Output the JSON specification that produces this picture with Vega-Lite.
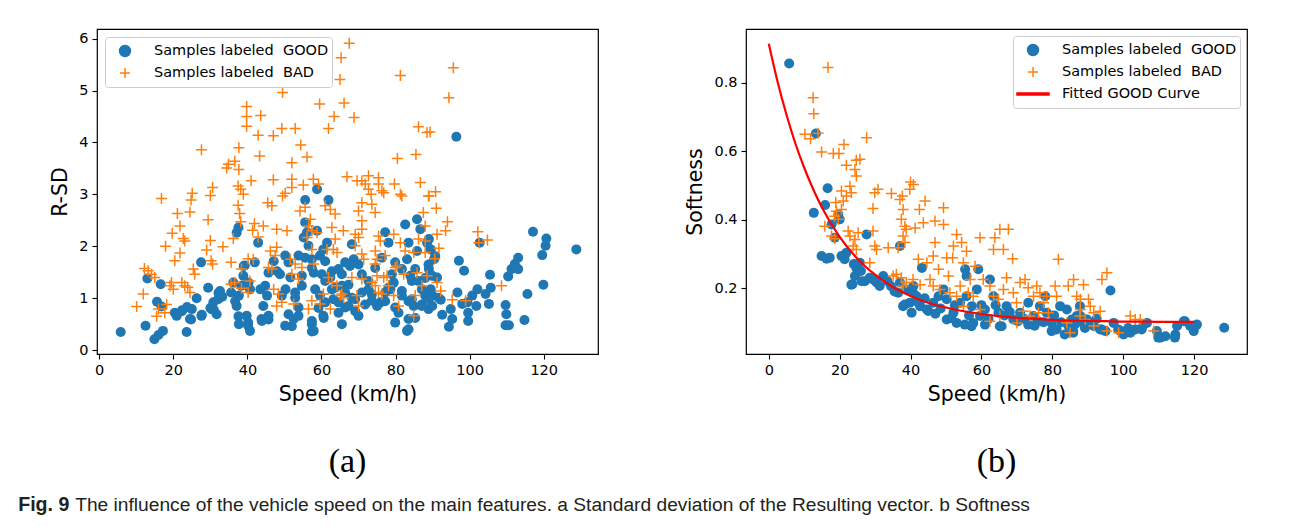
{
  "$schema": "https://vega.github.io/schema/vega-lite/v6.json",
  "background": "white",
  "padding": {"left": 18, "top": 28, "right": 5, "bottom": 5},
  "autosize": {"type": "pad"},
  "config": {
    "font": "DejaVu Sans",
    "view": {"stroke": "#000000", "strokeWidth": 1.2},
    "axis": {"grid": false, "domain": false, "tickColor": "#000000", "tickSize": 5, "tickWidth": 1.1, "labelFont": "DejaVu Sans", "labelFontSize": 14.5, "labelColor": "#000000", "labelPadding": 4, "titleFont": "DejaVu Sans", "titleFontSize": 20.5, "titleFontWeight": "normal", "titleColor": "#000000", "titlePadding": 8},
    "legend": {"fillColor": "rgba(255,255,255,0.8)", "strokeColor": "#cccccc", "cornerRadius": 3, "padding": 3, "labelFont": "DejaVu Sans", "labelFontSize": 14.5, "labelColor": "#000000", "symbolSize": 1024, "symbolStrokeWidth": 1.5, "clipHeight": 22, "rowPadding": 0, "labelOffset": 12, "labelLimit": 0}
  },
  "title": {"text": "Fig. 9", "orient": "bottom", "anchor": "start", "font": "Liberation Sans", "fontSize": 19.6, "fontWeight": "bold", "color": "#231f20", "offset": 0, "dx": -32, "dy": -19},
  "resolve": {"scale": {"color": "independent"}, "legend": {"color": "independent"}},
  "datasets": {
    "leftGood": [
      {"s":5.8,"v":0.35,"c":"G"},{"s":12.5,"v":0.47,"c":"G"},{"s":14.9,"v":0.21,"c":"G"},{"s":16.0,"v":0.29,"c":"G"},{"s":17.2,"v":0.37,"c":"G"},{"s":13.0,"v":1.38,"c":"G"},{"s":16.6,"v":1.27,"c":"G"},{"s":15.6,"v":0.93,"c":"G"},{"s":16.8,"v":0.84,"c":"G"},{"s":20.9,"v":0.66,"c":"G"},{"s":20.4,"v":0.72,"c":"G"},{"s":22.4,"v":0.77,"c":"G"},{"s":23.7,"v":0.83,"c":"G"},{"s":25.0,"v":0.79,"c":"G"},{"s":23.6,"v":0.35,"c":"G"},{"s":24.5,"v":0.6,"c":"G"},{"s":27.5,"v":1.69,"c":"G"},{"s":26.3,"v":1.0,"c":"G"},{"s":27.6,"v":0.66,"c":"G"},{"s":29.4,"v":1.2,"c":"G"},{"s":30.3,"v":0.79,"c":"G"},{"s":30.8,"v":0.92,"c":"G"},{"s":31.7,"v":0.69,"c":"G"},{"s":32.1,"v":0.98,"c":"G"},{"s":33.2,"v":1.03,"c":"G"},{"s":35.6,"v":1.11,"c":"G"},{"s":36.2,"v":1.3,"c":"G"},{"s":37.1,"v":0.85,"c":"G"},{"s":37.7,"v":1.05,"c":"G"},{"s":38.4,"v":1.24,"c":"G"},{"s":38.9,"v":1.43,"c":"G"},{"s":39.3,"v":1.63,"c":"G"},{"s":39.8,"v":0.66,"c":"G"},{"s":40.2,"v":0.53,"c":"G"},{"s":40.7,"v":1.17,"c":"G"},{"s":42.0,"v":1.69,"c":"G"},{"s":42.9,"v":2.07,"c":"G"},{"s":43.5,"v":1.17,"c":"G"},{"s":43.8,"v":0.6,"c":"G"},{"s":37.1,"v":2.26,"c":"G"},{"s":37.6,"v":2.36,"c":"G"},{"s":37.7,"v":0.5,"c":"G"},{"s":40.2,"v":0.47,"c":"G"},{"s":40.7,"v":0.37,"c":"G"},
      {"s":22.3,"v":0.75,"c":"G"},{"s":24.8,"v":0.59,"c":"G"},{"s":27.7,"v":0.68,"c":"G"},{"s":30.0,"v":0.81,"c":"G"},{"s":30.9,"v":0.78,"c":"G"},{"s":32.2,"v":1.1,"c":"G"},{"s":32.6,"v":1.14,"c":"G"},{"s":36.7,"v":0.94,"c":"G"},{"s":39.0,"v":1.62,"c":"G"},{"s":40.3,"v":1.3,"c":"G"},{"s":37.6,"v":0.65,"c":"G"},{"s":43.9,"v":0.56,"c":"G"},{"s":45.7,"v":0.59,"c":"G"},{"s":47.1,"v":1.71,"c":"G"},{"s":48.0,"v":1.52,"c":"G"},{"s":50.3,"v":1.17,"c":"G"},{"s":52.9,"v":1.01,"c":"G"},{"s":53.8,"v":0.82,"c":"G"},{"s":51.1,"v":0.69,"c":"G"},{"s":52.0,"v":0.46,"c":"G"},{"s":57.4,"v":0.56,"c":"G"},{"s":57.4,"v":0.36,"c":"G"},{"s":60.6,"v":0.62,"c":"G"},{"s":59.2,"v":0.81,"c":"G"},{"s":55.6,"v":1.78,"c":"G"},{"s":57.4,"v":1.58,"c":"G"},{"s":61.0,"v":1.71,"c":"G"},{"s":62.8,"v":1.52,"c":"G"},{"s":61.0,"v":1.33,"c":"G"},{"s":63.7,"v":1.2,"c":"G"},{"s":65.5,"v":1.46,"c":"G"},{"s":67.3,"v":1.26,"c":"G"},{"s":68.2,"v":1.01,"c":"G"},{"s":66.4,"v":0.82,"c":"G"},{"s":64.6,"v":0.72,"c":"G"},{"s":69.1,"v":0.75,"c":"G"},{"s":71.8,"v":0.88,"c":"G"},{"s":73.6,"v":1.07,"c":"G"},{"s":72.7,"v":1.33,"c":"G"},{"s":70.9,"v":1.46,"c":"G"},{"s":70.0,"v":1.65,"c":"G"},{"s":74.5,"v":1.58,"c":"G"},{"s":76.3,"v":1.78,"c":"G"},{"s":79.0,"v":1.46,"c":"G"},{"s":78.1,"v":1.2,"c":"G"},{"s":77.2,"v":0.94,"c":"G"},{"s":79.9,"v":0.82,"c":"G"},{"s":83.5,"v":0.94,"c":"G"},{"s":81.7,"v":1.14,"c":"G"},{"s":84.4,"v":1.33,"c":"G"},{"s":88.0,"v":1.39,"c":"G"},{"s":88.9,"v":1.65,"c":"G"},{"s":90.7,"v":1.81,"c":"G"},{"s":89.8,"v":1.07,"c":"G"},{"s":87.1,"v":0.88,"c":"G"},{"s":85.3,"v":0.62,"c":"G"},{"s":83.5,"v":0.4,"c":"G"},{"s":91.6,"v":1.01,"c":"G"},
      {"s":58.8,"v":3.1,"c":"G"},{"s":55.6,"v":2.89,"c":"G"},{"s":61.9,"v":2.89,"c":"G"},{"s":55.6,"v":2.46,"c":"G"},{"s":56.1,"v":2.27,"c":"G"},{"s":58.8,"v":2.3,"c":"G"},{"s":55.2,"v":2.17,"c":"G"},{"s":61.5,"v":2.07,"c":"G"},{"s":68.2,"v":2.04,"c":"G"},{"s":68.7,"v":1.75,"c":"G"},{"s":66.4,"v":1.69,"c":"G"},{"s":67.7,"v":1.62,"c":"G"},{"s":64.6,"v":1.56,"c":"G"},{"s":50.2,"v":1.82,"c":"G"},{"s":51.1,"v":1.69,"c":"G"},{"s":53.8,"v":1.82,"c":"G"},{"s":57.4,"v":1.75,"c":"G"},{"s":59.6,"v":1.82,"c":"G"},{"s":60.5,"v":1.94,"c":"G"},{"s":56.5,"v":2.01,"c":"G"},{"s":45.7,"v":1.49,"c":"G"},{"s":48.8,"v":1.46,"c":"G"},{"s":51.6,"v":1.4,"c":"G"},{"s":54.7,"v":1.43,"c":"G"},{"s":57.9,"v":1.49,"c":"G"},{"s":60.1,"v":1.46,"c":"G"},{"s":62.4,"v":1.4,"c":"G"},{"s":62.8,"v":1.17,"c":"G"},{"s":65.5,"v":1.24,"c":"G"},{"s":66.4,"v":1.11,"c":"G"},{"s":44.8,"v":1.24,"c":"G"},{"s":45.3,"v":1.05,"c":"G"},{"s":49.3,"v":1.05,"c":"G"},{"s":52.9,"v":1.11,"c":"G"},{"s":54.7,"v":1.24,"c":"G"},{"s":58.3,"v":1.17,"c":"G"},{"s":59.6,"v":1.05,"c":"G"},{"s":61.0,"v":0.92,"c":"G"},{"s":63.2,"v":0.98,"c":"G"},{"s":64.6,"v":0.92,"c":"G"},{"s":67.3,"v":0.85,"c":"G"},{"s":69.1,"v":0.98,"c":"G"},{"s":70.9,"v":1.11,"c":"G"},{"s":72.7,"v":1.17,"c":"G"},{"s":73.6,"v":0.95,"c":"G"},{"s":75.0,"v":0.85,"c":"G"},{"s":44.3,"v":0.85,"c":"G"},{"s":45.7,"v":0.66,"c":"G"},{"s":50.2,"v":0.47,"c":"G"},{"s":52.5,"v":0.6,"c":"G"},{"s":53.8,"v":0.66,"c":"G"},{"s":57.4,"v":0.5,"c":"G"},{"s":57.9,"v":0.37,"c":"G"},{"s":60.5,"v":0.66,"c":"G"},{"s":65.5,"v":0.5,"c":"G"},{"s":70.0,"v":0.66,"c":"G"},{"s":75.9,"v":0.92,"c":"G"},{"s":77.2,"v":1.11,"c":"G"},{"s":78.6,"v":1.17,"c":"G"},{"s":79.5,"v":1.3,"c":"G"},{"s":79.9,"v":1.69,"c":"G"},{"s":81.7,"v":1.56,"c":"G"},{"s":83.1,"v":1.75,"c":"G"},{"s":84.0,"v":1.43,"c":"G"},{"s":85.3,"v":1.56,"c":"G"},{"s":86.2,"v":1.33,"c":"G"},{"s":87.1,"v":1.17,"c":"G"},{"s":88.0,"v":1.05,"c":"G"},{"s":88.9,"v":0.79,"c":"G"},{"s":87.1,"v":0.85,"c":"G"},{"s":84.4,"v":0.98,"c":"G"},{"s":81.7,"v":1.05,"c":"G"},{"s":80.8,"v":0.72,"c":"G"},{"s":83.5,"v":0.6,"c":"G"},{"s":79.9,"v":0.53,"c":"G"},{"s":83.1,"v":0.37,"c":"G"},{"s":84.9,"v":0.85,"c":"G"},{"s":82.6,"v":2.42,"c":"G"},{"s":85.8,"v":2.52,"c":"G"},{"s":86.7,"v":2.33,"c":"G"},{"s":88.5,"v":2.07,"c":"G"},{"s":77.2,"v":2.27,"c":"G"},{"s":78.1,"v":2.07,"c":"G"},{"s":83.5,"v":2.07,"c":"G"},{"s":85.8,"v":1.91,"c":"G"},
      {"s":96.4,"v":4.11,"c":"G"},{"s":89.0,"v":2.14,"c":"G"},{"s":89.5,"v":1.94,"c":"G"},{"s":90.4,"v":1.75,"c":"G"},{"s":89.0,"v":1.56,"c":"G"},{"s":89.9,"v":1.43,"c":"G"},{"s":91.2,"v":1.4,"c":"G"},{"s":89.5,"v":1.17,"c":"G"},{"s":89.0,"v":0.98,"c":"G"},{"s":89.9,"v":0.85,"c":"G"},{"s":92.2,"v":0.97,"c":"G"},{"s":97.1,"v":1.72,"c":"G"},{"s":98.5,"v":1.53,"c":"G"},{"s":92.6,"v":0.68,"c":"G"},{"s":94.9,"v":0.79,"c":"G"},{"s":94.4,"v":0.45,"c":"G"},{"s":95.3,"v":0.6,"c":"G"},{"s":96.7,"v":1.11,"c":"G"},{"s":99.4,"v":0.92,"c":"G"},{"s":99.6,"v":0.72,"c":"G"},{"s":99.6,"v":0.56,"c":"G"},{"s":98.0,"v":0.89,"c":"G"},{"s":100.7,"v":1.05,"c":"G"},{"s":102.1,"v":1.17,"c":"G"},{"s":101.8,"v":0.85,"c":"G"},{"s":104.3,"v":1.08,"c":"G"},{"s":105.2,"v":0.89,"c":"G"},{"s":105.7,"v":1.2,"c":"G"},{"s":102.7,"v":2.07,"c":"G"},{"s":105.5,"v":1.45,"c":"G"},{"s":109.7,"v":0.87,"c":"G"},{"s":109.9,"v":0.69,"c":"G"},{"s":109.7,"v":0.48,"c":"G"},{"s":110.6,"v":0.48,"c":"G"},{"s":110.4,"v":1.42,"c":"G"},{"s":111.3,"v":1.56,"c":"G"},{"s":112.2,"v":1.66,"c":"G"},{"s":113.1,"v":1.78,"c":"G"},{"s":113.1,"v":1.56,"c":"G"},{"s":114.8,"v":0.58,"c":"G"},{"s":115.6,"v":1.08,"c":"G"},{"s":117.1,"v":2.28,"c":"G"},{"s":119.6,"v":1.83,"c":"G"},{"s":120.5,"v":2.01,"c":"G"},{"s":120.7,"v":2.15,"c":"G"},{"s":119.9,"v":1.26,"c":"G"},{"s":128.8,"v":1.94,"c":"G"}
    ],
    "leftBad": [
      {"s":10.1,"v":0.84,"c":"B"},{"s":11.9,"v":1.08,"c":"B"},{"s":12.2,"v":1.57,"c":"B"},{"s":13.2,"v":1.53,"c":"B"},{"s":14.1,"v":1.46,"c":"B"},{"s":15.0,"v":1.4,"c":"B"},{"s":16.8,"v":2.92,"c":"B"},{"s":15.5,"v":0.65,"c":"B"},{"s":16.0,"v":0.79,"c":"B"},{"s":17.7,"v":0.72,"c":"B"},{"s":18.2,"v":0.88,"c":"B"},{"s":19.1,"v":1.24,"c":"B"},{"s":19.5,"v":1.3,"c":"B"},{"s":20.0,"v":1.17,"c":"B"},{"s":17.9,"v":2.0,"c":"B"},{"s":19.7,"v":2.25,"c":"B"},{"s":20.4,"v":1.72,"c":"B"},{"s":21.1,"v":2.63,"c":"B"},{"s":21.8,"v":2.39,"c":"B"},{"s":22.7,"v":2.15,"c":"B"},{"s":23.1,"v":2.1,"c":"B"},{"s":21.8,"v":1.87,"c":"B"},{"s":22.3,"v":1.3,"c":"B"},{"s":23.1,"v":1.24,"c":"B"},{"s":23.9,"v":1.21,"c":"B"},{"s":24.5,"v":1.11,"c":"B"},{"s":25.4,"v":1.56,"c":"B"},{"s":25.8,"v":1.46,"c":"B"},{"s":24.5,"v":2.66,"c":"B"},{"s":24.8,"v":2.89,"c":"B"},{"s":25.1,"v":3.02,"c":"B"},{"s":27.6,"v":3.86,"c":"B"},{"s":29.4,"v":2.51,"c":"B"},{"s":30.0,"v":2.98,"c":"B"},{"s":30.6,"v":3.13,"c":"B"},{"s":29.0,"v":1.93,"c":"B"},{"s":30.0,"v":2.11,"c":"B"},{"s":30.2,"v":1.72,"c":"B"},{"s":30.6,"v":1.66,"c":"B"},{"s":33.4,"v":1.99,"c":"B"},{"s":34.4,"v":3.51,"c":"B"},{"s":34.9,"v":3.58,"c":"B"},{"s":36.6,"v":3.64,"c":"B"},{"s":37.7,"v":3.48,"c":"B"},{"s":37.7,"v":3.9,"c":"B"},{"s":39.8,"v":4.69,"c":"B"},{"s":39.8,"v":4.5,"c":"B"},{"s":39.8,"v":4.31,"c":"B"},{"s":42.9,"v":4.14,"c":"B"},{"s":43.3,"v":3.74,"c":"B"},{"s":43.6,"v":4.52,"c":"B"},{"s":37.5,"v":3.16,"c":"B"},{"s":38.2,"v":3.1,"c":"B"},{"s":38.9,"v":3.0,"c":"B"},{"s":41.0,"v":3.26,"c":"B"},{"s":37.5,"v":2.79,"c":"B"},{"s":37.9,"v":2.63,"c":"B"},{"s":38.2,"v":2.47,"c":"B"},{"s":41.9,"v":2.44,"c":"B"},{"s":41.4,"v":2.31,"c":"B"},{"s":42.9,"v":2.18,"c":"B"},{"s":36.2,"v":2.15,"c":"B"},{"s":35.6,"v":1.69,"c":"B"},{"s":38.4,"v":1.56,"c":"B"},{"s":40.2,"v":1.76,"c":"B"},{"s":41.6,"v":1.75,"c":"B"},{"s":35.6,"v":1.27,"c":"B"},{"s":36.6,"v":1.3,"c":"B"},{"s":38.4,"v":1.19,"c":"B"},{"s":40.2,"v":1.11,"c":"B"},{"s":40.7,"v":1.33,"c":"B"},
      {"s":67.5,"v":5.91,"c":"B"},{"s":65.3,"v":5.63,"c":"B"},{"s":65.0,"v":5.21,"c":"B"},{"s":81.3,"v":5.29,"c":"B"},{"s":49.5,"v":4.96,"c":"B"},{"s":59.5,"v":4.74,"c":"B"},{"s":66.1,"v":4.76,"c":"B"},{"s":63.4,"v":4.5,"c":"B"},{"s":68.8,"v":4.48,"c":"B"},{"s":49.3,"v":4.27,"c":"B"},{"s":52.9,"v":4.27,"c":"B"},{"s":47.0,"v":4.13,"c":"B"},{"s":61.9,"v":4.27,"c":"B"},{"s":54.4,"v":3.95,"c":"B"},{"s":56.1,"v":3.72,"c":"B"},{"s":52.0,"v":3.61,"c":"B"},{"s":86.2,"v":4.3,"c":"B"},{"s":88.5,"v":4.19,"c":"B"},{"s":80.5,"v":3.69,"c":"B"},{"s":85.5,"v":3.77,"c":"B"},{"s":47.0,"v":3.28,"c":"B"},{"s":52.0,"v":3.29,"c":"B"},{"s":52.0,"v":3.13,"c":"B"},{"s":50.2,"v":3.02,"c":"B"},{"s":49.5,"v":2.97,"c":"B"},{"s":55.1,"v":3.18,"c":"B"},{"s":57.8,"v":3.29,"c":"B"},{"s":59.2,"v":3.2,"c":"B"},{"s":66.9,"v":3.34,"c":"B"},{"s":69.6,"v":3.26,"c":"B"},{"s":70.9,"v":3.26,"c":"B"},{"s":72.7,"v":3.36,"c":"B"},{"s":71.8,"v":3.2,"c":"B"},{"s":72.7,"v":3.1,"c":"B"},{"s":73.4,"v":3.0,"c":"B"},{"s":75.4,"v":3.32,"c":"B"},{"s":75.4,"v":3.2,"c":"B"},{"s":76.3,"v":3.07,"c":"B"},{"s":76.8,"v":3.03,"c":"B"},{"s":79.7,"v":3.2,"c":"B"},{"s":81.3,"v":3.0,"c":"B"},{"s":81.7,"v":2.97,"c":"B"},{"s":86.7,"v":3.23,"c":"B"},{"s":88.9,"v":2.97,"c":"B"},{"s":45.5,"v":2.84,"c":"B"},{"s":46.6,"v":2.78,"c":"B"},{"s":54.2,"v":2.68,"c":"B"},{"s":55.6,"v":2.75,"c":"B"},{"s":61.0,"v":2.78,"c":"B"},{"s":62.4,"v":2.71,"c":"B"},{"s":63.7,"v":2.62,"c":"B"},{"s":70.9,"v":2.84,"c":"B"},{"s":70.0,"v":2.68,"c":"B"},{"s":73.6,"v":2.81,"c":"B"},{"s":74.5,"v":2.65,"c":"B"},{"s":70.9,"v":2.33,"c":"B"},{"s":70.9,"v":2.49,"c":"B"},{"s":88.0,"v":2.39,"c":"B"},{"s":87.5,"v":2.65,"c":"B"},{"s":44.3,"v":2.39,"c":"B"},{"s":47.9,"v":2.33,"c":"B"},{"s":50.7,"v":2.3,"c":"B"},{"s":57.0,"v":2.52,"c":"B"},{"s":56.5,"v":2.39,"c":"B"},{"s":57.4,"v":2.3,"c":"B"},{"s":56.1,"v":2.17,"c":"B"},{"s":58.8,"v":2.26,"c":"B"},{"s":62.8,"v":2.36,"c":"B"},{"s":65.9,"v":2.3,"c":"B"},{"s":63.7,"v":2.14,"c":"B"},{"s":69.1,"v":2.23,"c":"B"},{"s":70.0,"v":2.17,"c":"B"},{"s":75.4,"v":2.2,"c":"B"},{"s":75.9,"v":2.1,"c":"B"},{"s":79.5,"v":2.23,"c":"B"},{"s":81.3,"v":2.07,"c":"B"},{"s":86.2,"v":2.14,"c":"B"},{"s":88.0,"v":2.1,"c":"B"},{"s":47.9,"v":1.98,"c":"B"},{"s":46.2,"v":1.91,"c":"B"},{"s":47.5,"v":1.82,"c":"B"},{"s":45.7,"v":1.59,"c":"B"},{"s":46.6,"v":1.56,"c":"B"},{"s":51.6,"v":1.75,"c":"B"},{"s":52.9,"v":1.66,"c":"B"},{"s":54.7,"v":1.59,"c":"B"},{"s":57.9,"v":1.66,"c":"B"},{"s":52.0,"v":1.46,"c":"B"},{"s":53.8,"v":1.37,"c":"B"},{"s":57.4,"v":1.94,"c":"B"},{"s":61.5,"v":1.94,"c":"B"},{"s":63.2,"v":1.94,"c":"B"},{"s":64.2,"v":1.88,"c":"B"},{"s":69.1,"v":2.01,"c":"B"},{"s":70.9,"v":1.85,"c":"B"},{"s":71.4,"v":1.75,"c":"B"},{"s":74.5,"v":1.91,"c":"B"},{"s":75.0,"v":1.75,"c":"B"},{"s":74.5,"v":1.66,"c":"B"},{"s":77.2,"v":1.82,"c":"B"},{"s":79.9,"v":1.59,"c":"B"},{"s":82.6,"v":1.91,"c":"B"},{"s":84.9,"v":1.88,"c":"B"},{"s":88.0,"v":1.88,"c":"B"},{"s":61.9,"v":1.4,"c":"B"},{"s":62.8,"v":1.3,"c":"B"},{"s":64.2,"v":1.24,"c":"B"},{"s":65.5,"v":1.08,"c":"B"},{"s":66.0,"v":1.01,"c":"B"},{"s":68.2,"v":1.4,"c":"B"},{"s":70.9,"v":1.37,"c":"B"},{"s":73.6,"v":1.3,"c":"B"},{"s":75.0,"v":1.43,"c":"B"},{"s":76.8,"v":1.4,"c":"B"},{"s":77.7,"v":1.43,"c":"B"},{"s":78.1,"v":1.24,"c":"B"},{"s":80.4,"v":1.62,"c":"B"},{"s":82.2,"v":1.46,"c":"B"},{"s":85.8,"v":1.49,"c":"B"},{"s":87.1,"v":1.24,"c":"B"},{"s":88.5,"v":1.43,"c":"B"},{"s":47.1,"v":1.17,"c":"B"},{"s":48.4,"v":1.08,"c":"B"},{"s":47.9,"v":0.85,"c":"B"},{"s":49.3,"v":0.92,"c":"B"},{"s":52.5,"v":0.89,"c":"B"},{"s":56.5,"v":0.79,"c":"B"},{"s":57.4,"v":0.95,"c":"B"},{"s":59.6,"v":0.89,"c":"B"},{"s":60.5,"v":1.08,"c":"B"},{"s":62.4,"v":0.79,"c":"B"},{"s":65.1,"v":1.05,"c":"B"},{"s":69.6,"v":1.05,"c":"B"},{"s":70.0,"v":0.85,"c":"B"},{"s":74.5,"v":1.24,"c":"B"},{"s":75.4,"v":1.11,"c":"B"},{"s":76.3,"v":1.08,"c":"B"},{"s":79.5,"v":1.05,"c":"B"},{"s":80.8,"v":0.85,"c":"B"},{"s":84.9,"v":0.66,"c":"B"},{"s":85.3,"v":1.05,"c":"B"},
      {"s":95.6,"v":5.44,"c":"B"},{"s":94.4,"v":4.86,"c":"B"},{"s":89.3,"v":4.2,"c":"B"},{"s":90.8,"v":3.05,"c":"B"},{"s":91.0,"v":2.73,"c":"B"},{"s":89.0,"v":2.97,"c":"B"},{"s":94.0,"v":2.47,"c":"B"},{"s":93.5,"v":2.3,"c":"B"},{"s":91.2,"v":2.23,"c":"B"},{"s":91.7,"v":1.96,"c":"B"},{"s":102.2,"v":2.28,"c":"B"},{"s":104.8,"v":2.12,"c":"B"},{"s":102.5,"v":2.07,"c":"B"},{"s":90.6,"v":1.76,"c":"B"},{"s":91.2,"v":1.3,"c":"B"},{"s":92.2,"v":1.14,"c":"B"},{"s":95.3,"v":0.97,"c":"B"},{"s":98.9,"v":0.95,"c":"B"},{"s":108.6,"v":1.24,"c":"B"}
    ],
    "rightGood": [
      {"s":5.75,"v":0.857,"c":"G"},{"s":13.3,"v":0.652,"c":"G"},{"s":16.6,"v":0.492,"c":"G"},{"s":15.9,"v":0.443,"c":"G"},{"s":12.7,"v":0.42,"c":"G"},{"s":19.6,"v":0.416,"c":"G"},{"s":20.0,"v":0.401,"c":"G"},{"s":17.7,"v":0.386,"c":"G"},{"s":18.6,"v":0.347,"c":"G"},{"s":14.9,"v":0.294,"c":"G"},{"s":16.3,"v":0.286,"c":"G"},{"s":17.2,"v":0.289,"c":"G"},{"s":20.5,"v":0.294,"c":"G"},{"s":21.4,"v":0.284,"c":"G"},{"s":21.9,"v":0.303,"c":"G"},{"s":23.6,"v":0.211,"c":"G"},{"s":24.3,"v":0.235,"c":"G"},{"s":24.7,"v":0.259,"c":"G"},{"s":25.7,"v":0.274,"c":"G"},{"s":27.6,"v":0.357,"c":"G"},{"s":27.1,"v":0.22,"c":"G"},{"s":29.4,"v":0.225,"c":"G"},{"s":30.4,"v":0.216,"c":"G"},{"s":31.3,"v":0.206,"c":"G"},{"s":32.3,"v":0.235,"c":"G"},{"s":37.0,"v":0.323,"c":"G"},{"s":36.5,"v":0.186,"c":"G"},{"s":37.9,"v":0.147,"c":"G"},{"s":40.3,"v":0.128,"c":"G"},{"s":39.8,"v":0.157,"c":"G"},{"s":38.8,"v":0.196,"c":"G"},{"s":40.7,"v":0.186,"c":"G"},{"s":37.0,"v":0.216,"c":"G"},{"s":43.2,"v":0.259,"c":"G"},{"s":40.8,"v":0.206,"c":"G"},{"s":41.7,"v":0.176,"c":"G"},{"s":42.7,"v":0.147,"c":"G"},{"s":44.6,"v":0.137,"c":"G"},{"s":46.4,"v":0.157,"c":"G"},{"s":47.9,"v":0.176,"c":"G"},{"s":49.3,"v":0.196,"c":"G"},{"s":50.2,"v":0.167,"c":"G"},{"s":50.2,"v":0.108,"c":"G"},{"s":52.1,"v":0.128,"c":"G"},{"s":53.0,"v":0.098,"c":"G"},{"s":54.0,"v":0.157,"c":"G"},{"s":55.4,"v":0.255,"c":"G"},{"s":55.8,"v":0.235,"c":"G"},{"s":59.1,"v":0.255,"c":"G"},{"s":58.7,"v":0.196,"c":"G"},{"s":55.8,"v":0.176,"c":"G"},{"s":57.3,"v":0.147,"c":"G"},{"s":57.7,"v":0.098,"c":"G"},{"s":59.6,"v":0.118,"c":"G"},{"s":61.0,"v":0.137,"c":"G"},{"s":62.4,"v":0.225,"c":"G"},{"s":63.4,"v":0.176,"c":"G"},{"s":64.8,"v":0.128,"c":"G"},{"s":65.7,"v":0.088,"c":"G"},{"s":67.1,"v":0.147,"c":"G"},{"s":69.0,"v":0.108,"c":"G"},{"s":70.9,"v":0.128,"c":"G"},{"s":73.2,"v":0.157,"c":"G"},{"s":74.7,"v":0.118,"c":"G"},{"s":76.5,"v":0.147,"c":"G"},{"s":78.0,"v":0.176,"c":"G"},{"s":78.4,"v":0.128,"c":"G"},{"s":79.8,"v":0.098,"c":"G"},{"s":81.2,"v":0.079,"c":"G"},{"s":82.2,"v":0.147,"c":"G"},{"s":84.1,"v":0.137,"c":"G"},{"s":85.5,"v":0.108,"c":"G"},{"s":86.9,"v":0.118,"c":"G"},{"s":87.8,"v":0.147,"c":"G"},{"s":85.9,"v":0.069,"c":"G"},{"s":88.8,"v":0.098,"c":"G"},{"s":96.4,"v":0.193,"c":"G"},{"s":87.9,"v":0.118,"c":"G"},{"s":89.8,"v":0.108,"c":"G"},{"s":91.7,"v":0.089,"c":"G"},{"s":93.5,"v":0.079,"c":"G"},{"s":95.0,"v":0.074,"c":"G"},{"s":97.3,"v":0.098,"c":"G"},{"s":99.2,"v":0.074,"c":"G"},{"s":100.1,"v":0.064,"c":"G"},{"s":102.0,"v":0.069,"c":"G"},{"s":103.4,"v":0.079,"c":"G"},{"s":105.3,"v":0.084,"c":"G"},{"s":106.7,"v":0.098,"c":"G"},{"s":109.5,"v":0.074,"c":"G"},{"s":110.5,"v":0.055,"c":"G"},{"s":111.9,"v":0.059,"c":"G"},{"s":114.7,"v":0.064,"c":"G"},{"s":115.2,"v":0.089,"c":"G"},{"s":117.1,"v":0.103,"c":"G"},{"s":118.9,"v":0.089,"c":"G"},{"s":119.9,"v":0.074,"c":"G"},{"s":120.8,"v":0.093,"c":"G"},{"s":128.5,"v":0.084,"c":"G"},
      {"s":23.3,"v":0.21,"c":"G"},{"s":26.2,"v":0.22,"c":"G"},{"s":38.4,"v":0.152,"c":"G"},{"s":45.0,"v":0.133,"c":"G"},{"s":51.5,"v":0.112,"c":"G"},{"s":55.3,"v":0.093,"c":"G"},{"s":57.2,"v":0.088,"c":"G"},{"s":61.0,"v":0.093,"c":"G"},{"s":65.2,"v":0.088,"c":"G"},{"s":70.3,"v":0.103,"c":"G"},{"s":73.2,"v":0.093,"c":"G"},{"s":76.0,"v":0.103,"c":"G"},{"s":79.8,"v":0.074,"c":"G"},{"s":83.5,"v":0.064,"c":"G"},{"s":85.9,"v":0.074,"c":"G"},{"s":89.2,"v":0.083,"c":"G"},{"s":93.9,"v":0.079,"c":"G"},{"s":98.6,"v":0.079,"c":"G"},{"s":101.4,"v":0.083,"c":"G"},{"s":105.2,"v":0.079,"c":"G"},{"s":109.9,"v":0.055,"c":"G"},{"s":114.6,"v":0.055,"c":"G"},{"s":117.4,"v":0.103,"c":"G"},{"s":120.2,"v":0.088,"c":"G"},
      {"s":33.5,"v":0.22,"c":"G"},{"s":34.5,"v":0.205,"c":"G"},{"s":35.5,"v":0.19,"c":"G"},{"s":42.0,"v":0.16,"c":"G"},{"s":44.0,"v":0.17,"c":"G"},{"s":47.0,"v":0.125,"c":"G"},{"s":48.5,"v":0.14,"c":"G"},{"s":52.5,"v":0.15,"c":"G"},{"s":56.5,"v":0.12,"c":"G"},{"s":60.0,"v":0.15,"c":"G"},{"s":62.0,"v":0.11,"c":"G"},{"s":64.0,"v":0.15,"c":"G"},{"s":66.5,"v":0.12,"c":"G"},{"s":68.0,"v":0.13,"c":"G"},{"s":72.0,"v":0.11,"c":"G"},{"s":75.0,"v":0.09,"c":"G"},{"s":77.5,"v":0.1,"c":"G"},{"s":80.5,"v":0.12,"c":"G"},{"s":82.5,"v":0.1,"c":"G"},{"s":84.5,"v":0.09,"c":"G"},{"s":86.5,"v":0.095,"c":"G"},{"s":90.5,"v":0.1,"c":"G"},{"s":92.5,"v":0.11,"c":"G"},{"s":24.0,"v":0.27,"c":"G"},{"s":26.0,"v":0.25,"c":"G"},{"s":28.5,"v":0.23,"c":"G"}
    ],
    "rightBad": [
      {"s":16.7,"v":0.845,"c":"B"},{"s":12.5,"v":0.757,"c":"B"},{"s":12.7,"v":0.71,"c":"B"},{"s":10.2,"v":0.65,"c":"B"},{"s":11.8,"v":0.637,"c":"B"},{"s":13.9,"v":0.653,"c":"B"},{"s":14.9,"v":0.598,"c":"B"},{"s":18.2,"v":0.594,"c":"B"},{"s":19.8,"v":0.594,"c":"B"},{"s":21.2,"v":0.62,"c":"B"},{"s":27.6,"v":0.64,"c":"B"},{"s":21.9,"v":0.559,"c":"B"},{"s":24.7,"v":0.574,"c":"B"},{"s":25.7,"v":0.577,"c":"B"},{"s":24.3,"v":0.547,"c":"B"},{"s":24.7,"v":0.528,"c":"B"},{"s":22.9,"v":0.498,"c":"B"},{"s":23.3,"v":0.479,"c":"B"},{"s":20.5,"v":0.484,"c":"B"},{"s":21.9,"v":0.469,"c":"B"},{"s":21.0,"v":0.455,"c":"B"},{"s":18.9,"v":0.45,"c":"B"},{"s":20.5,"v":0.43,"c":"B"},{"s":19.6,"v":0.401,"c":"B"},{"s":19.1,"v":0.425,"c":"B"},{"s":18.6,"v":0.41,"c":"B"},{"s":15.8,"v":0.381,"c":"B"},{"s":17.7,"v":0.352,"c":"B"},{"s":18.6,"v":0.344,"c":"B"},{"s":22.4,"v":0.367,"c":"B"},{"s":22.9,"v":0.352,"c":"B"},{"s":24.3,"v":0.342,"c":"B"},{"s":23.8,"v":0.323,"c":"B"},{"s":25.2,"v":0.362,"c":"B"},{"s":24.7,"v":0.313,"c":"B"},{"s":29.4,"v":0.433,"c":"B"},{"s":29.9,"v":0.479,"c":"B"},{"s":30.8,"v":0.489,"c":"B"},{"s":29.4,"v":0.367,"c":"B"},{"s":29.9,"v":0.323,"c":"B"},{"s":30.4,"v":0.313,"c":"B"},{"s":33.7,"v":0.318,"c":"B"},{"s":36.5,"v":0.318,"c":"B"},{"s":34.6,"v":0.477,"c":"B"},{"s":37.0,"v":0.459,"c":"B"},{"s":37.7,"v":0.469,"c":"B"},{"s":39.8,"v":0.489,"c":"B"},{"s":40.0,"v":0.51,"c":"B"},{"s":37.9,"v":0.43,"c":"B"},{"s":37.4,"v":0.401,"c":"B"},{"s":38.4,"v":0.381,"c":"B"},{"s":38.8,"v":0.372,"c":"B"},{"s":37.9,"v":0.352,"c":"B"},{"s":38.4,"v":0.333,"c":"B"},{"s":28.5,"v":0.274,"c":"B"},{"s":35.1,"v":0.235,"c":"B"},{"s":36.0,"v":0.24,"c":"B"},{"s":37.4,"v":0.23,"c":"B"},{"s":38.8,"v":0.216,"c":"B"},{"s":37.9,"v":0.206,"c":"B"},{"s":40.7,"v":0.225,"c":"B"},
      {"s":40.8,"v":0.503,"c":"B"},{"s":42.5,"v":0.43,"c":"B"},{"s":44.1,"v":0.455,"c":"B"},{"s":43.6,"v":0.391,"c":"B"},{"s":46.9,"v":0.396,"c":"B"},{"s":49.3,"v":0.435,"c":"B"},{"s":49.3,"v":0.386,"c":"B"},{"s":41.3,"v":0.376,"c":"B"},{"s":46.9,"v":0.333,"c":"B"},{"s":46.4,"v":0.294,"c":"B"},{"s":50.2,"v":0.289,"c":"B"},{"s":52.1,"v":0.323,"c":"B"},{"s":51.9,"v":0.289,"c":"B"},{"s":53.0,"v":0.357,"c":"B"},{"s":54.4,"v":0.333,"c":"B"},{"s":55.8,"v":0.308,"c":"B"},{"s":59.6,"v":0.347,"c":"B"},{"s":63.8,"v":0.347,"c":"B"},{"s":65.2,"v":0.372,"c":"B"},{"s":67.6,"v":0.372,"c":"B"},{"s":63.4,"v":0.313,"c":"B"},{"s":66.2,"v":0.313,"c":"B"},{"s":68.8,"v":0.286,"c":"B"},{"s":42.2,"v":0.284,"c":"B"},{"s":44.6,"v":0.274,"c":"B"},{"s":47.9,"v":0.255,"c":"B"},{"s":50.7,"v":0.235,"c":"B"},{"s":54.9,"v":0.274,"c":"B"},{"s":56.8,"v":0.225,"c":"B"},{"s":58.2,"v":0.264,"c":"B"},{"s":42.7,"v":0.21,"c":"B"},{"s":45.5,"v":0.225,"c":"B"},{"s":46.4,"v":0.206,"c":"B"},{"s":48.3,"v":0.196,"c":"B"},{"s":51.1,"v":0.186,"c":"B"},{"s":53.0,"v":0.176,"c":"B"},{"s":54.0,"v":0.206,"c":"B"},{"s":56.3,"v":0.186,"c":"B"},{"s":57.7,"v":0.176,"c":"B"},{"s":60.5,"v":0.225,"c":"B"},{"s":62.4,"v":0.206,"c":"B"},{"s":63.4,"v":0.176,"c":"B"},{"s":64.8,"v":0.167,"c":"B"},{"s":66.2,"v":0.196,"c":"B"},{"s":67.1,"v":0.23,"c":"B"},{"s":69.0,"v":0.186,"c":"B"},{"s":70.9,"v":0.216,"c":"B"},{"s":72.3,"v":0.225,"c":"B"},{"s":73.2,"v":0.201,"c":"B"},{"s":74.7,"v":0.176,"c":"B"},{"s":75.6,"v":0.206,"c":"B"},{"s":76.5,"v":0.186,"c":"B"},{"s":78.4,"v":0.176,"c":"B"},{"s":69.9,"v":0.157,"c":"B"},{"s":71.8,"v":0.132,"c":"B"},{"s":73.7,"v":0.118,"c":"B"},{"s":76.1,"v":0.128,"c":"B"},{"s":77.5,"v":0.157,"c":"B"},{"s":78.9,"v":0.128,"c":"B"},{"s":80.8,"v":0.206,"c":"B"},{"s":81.2,"v":0.176,"c":"B"},{"s":81.7,"v":0.284,"c":"B"},{"s":84.5,"v":0.206,"c":"B"},{"s":86.0,"v":0.225,"c":"B"},{"s":86.9,"v":0.176,"c":"B"},{"s":84.1,"v":0.098,"c":"B"},{"s":85.0,"v":0.069,"c":"B"},{"s":87.8,"v":0.118,"c":"B"},{"s":62.4,"v":0.103,"c":"B"},{"s":65.2,"v":0.118,"c":"B"},{"s":70.0,"v":0.098,"c":"B"},{"s":59.6,"v":0.137,"c":"B"},{"s":54.9,"v":0.147,"c":"B"},
      {"s":95.4,"v":0.245,"c":"B"},{"s":94.0,"v":0.225,"c":"B"},{"s":88.8,"v":0.21,"c":"B"},{"s":87.9,"v":0.167,"c":"B"},{"s":90.2,"v":0.167,"c":"B"},{"s":90.7,"v":0.147,"c":"B"},{"s":87.9,"v":0.137,"c":"B"},{"s":91.7,"v":0.128,"c":"B"},{"s":93.5,"v":0.132,"c":"B"},{"s":89.3,"v":0.108,"c":"B"},{"s":91.7,"v":0.089,"c":"B"},{"s":95.4,"v":0.074,"c":"B"},{"s":98.7,"v":0.069,"c":"B"},{"s":102.0,"v":0.118,"c":"B"},{"s":103.4,"v":0.108,"c":"B"},{"s":104.8,"v":0.108,"c":"B"},{"s":108.6,"v":0.074,"c":"B"}
    ],
    "curve": [
      {"s":0,"v":0.915,"c":"F"},{"s":2.5,"v":0.803,"c":"F"},{"s":5,"v":0.707,"c":"F"},{"s":7.5,"v":0.623,"c":"F"},{"s":10,"v":0.552,"c":"F"},{"s":12.5,"v":0.49,"c":"F"},{"s":15,"v":0.436,"c":"F"},{"s":20,"v":0.35,"c":"F"},{"s":25,"v":0.286,"c":"F"},{"s":30,"v":0.239,"c":"F"},{"s":35,"v":0.203,"c":"F"},{"s":40,"v":0.177,"c":"F"},{"s":45,"v":0.157,"c":"F"},{"s":50,"v":0.143,"c":"F"},{"s":55,"v":0.132,"c":"F"},{"s":60,"v":0.124,"c":"F"},{"s":65,"v":0.118,"c":"F"},{"s":70,"v":0.113,"c":"F"},{"s":75,"v":0.11,"c":"F"},{"s":80,"v":0.107,"c":"F"},{"s":85,"v":0.105,"c":"F"},{"s":90,"v":0.104,"c":"F"},{"s":95,"v":0.103,"c":"F"},{"s":100,"v":0.102,"c":"F"},{"s":105,"v":0.102,"c":"F"},{"s":110,"v":0.101,"c":"F"},{"s":115,"v":0.101,"c":"F"},{"s":120,"v":0.101,"c":"F"}
    ]
  },
  "vconcat": [
    {
      "title": {"text": "The influence of the vehicle speed on the main features. a Standard deviation of the Resulting vector. b Softness", "orient": "bottom", "anchor": "start", "font": "Liberation Sans", "fontSize": 19.2, "fontWeight": "normal", "color": "#231f20", "offset": 16, "dx": 25},
      "resolve": {"scale": {"color": "independent"}, "legend": {"color": "independent"}},
      "spacing": 86,
      "hconcat": [
        {
          "width": 501,
          "height": 325,
          "title": {"text": "(a)", "orient": "bottom", "anchor": "middle", "frame": "group", "font": "Liberation Serif", "fontSize": 34, "fontWeight": "normal", "color": "#000000", "offset": 40},
          "layer": [
            {
              "data": {"name": "leftGood"},
              "mark": {"type": "point", "shape": "circle", "filled": true, "size": 100, "opacity": 1},
              "encoding": {
                "x": {"field": "s", "type": "quantitative", "scale": {"domain": [-0.6, 134.65], "nice": false, "zero": false}, "axis": {"values": [0, 20, 40, 60, 80, 100, 120], "title": "Speed (km/h)"}},
                "y": {"field": "v", "type": "quantitative", "scale": {"domain": [-0.075, 6.185], "nice": false, "zero": false}, "axis": {"values": [0, 1, 2, 3, 4, 5, 6], "format": ".0f", "title": "R-SD"}},
                "color": {"field": "c", "type": "nominal", "scale": {"domain": ["G", "B"], "range": ["#1f77b4", "#ff7f0e"]},
                  "legend": {"title": null, "orient": "top-left", "offset": 8,
                    "labelExpr": "datum.value == 'G' ? 'Samples labeled\u00a0 GOOD' : 'Samples labeled\u00a0 BAD'",
                    "encoding": {"symbols": {
                      "shape": {"condition": {"test": "datum.value == 'B'", "value": "M-0.3125,0L0.3125,0M0,-0.3125L0,0.3125"}, "value": "M0.34,0A0.34,0.34,0,1,1,-0.34,0A0.34,0.34,0,1,1,0.34,0Z"},
                      "fill": {"condition": {"test": "datum.value == 'B'", "value": "transparent"}, "value": "#1f77b4"},
                      "stroke": {"condition": {"test": "datum.value == 'B'", "value": "#ff7f0e"}, "value": "transparent"},
                      "opacity": {"value": 1}
                    }}}}
              }
            },
            {
              "data": {"name": "leftBad"},
              "mark": {"type": "point", "shape": "M-1,0L1,0M0,-1L0,1", "filled": false, "size": 121, "strokeWidth": 1.5, "opacity": 1},
              "encoding": {
                "x": {"field": "s", "type": "quantitative"},
                "y": {"field": "v", "type": "quantitative"},
                "color": {"field": "c", "type": "nominal"}
              }
            }
          ]
        },
        {
          "width": 501,
          "height": 325,
          "title": {"text": "(b)", "orient": "bottom", "anchor": "middle", "frame": "group", "font": "Liberation Serif", "fontSize": 34, "fontWeight": "normal", "color": "#000000", "offset": 40},
          "layer": [
            {
              "data": {"name": "rightGood"},
              "mark": {"type": "point", "shape": "circle", "filled": true, "size": 100, "opacity": 1},
              "encoding": {
                "x": {"field": "s", "type": "quantitative", "scale": {"domain": [-6.43, 134.93], "nice": false, "zero": false}, "axis": {"values": [0, 20, 40, 60, 80, 100, 120], "title": "Speed (km/h)"}},
                "y": {"field": "v", "type": "quantitative", "scale": {"domain": [0.007, 0.958], "nice": false, "zero": false}, "axis": {"values": [0.2, 0.4, 0.6, 0.8], "format": ".1f", "title": "Softness"}},
                "color": {"field": "c", "type": "nominal", "scale": {"domain": ["G", "B", "F"], "range": ["#1f77b4", "#ff7f0e", "#ff0000"]},
                  "legend": {"title": null, "orient": "top-right", "offset": 7,
                    "labelExpr": "datum.value == 'G' ? 'Samples labeled\u00a0 GOOD' : datum.value == 'B' ? 'Samples labeled\u00a0 BAD' : 'Fitted GOOD Curve'",
                    "encoding": {"symbols": {
                      "shape": {"condition": [{"test": "datum.value == 'B'", "value": "M-0.3125,0L0.3125,0M0,-0.3125L0,0.3125"}, {"test": "datum.value == 'F'", "value": "M-1,-0.07L1,-0.07L1,0.07L-1,0.07Z"}], "value": "M0.34,0A0.34,0.34,0,1,1,-0.34,0A0.34,0.34,0,1,1,0.34,0Z"},
                      "fill": {"condition": [{"test": "datum.value == 'B'", "value": "transparent"}, {"test": "datum.value == 'F'", "value": "#ff0000"}], "value": "#1f77b4"},
                      "stroke": {"condition": {"test": "datum.value == 'B'", "value": "#ff7f0e"}, "value": "transparent"},
                      "opacity": {"value": 1}
                    }}}}
              }
            },
            {
              "data": {"name": "rightBad"},
              "mark": {"type": "point", "shape": "M-1,0L1,0M0,-1L0,1", "filled": false, "size": 121, "strokeWidth": 1.5, "opacity": 1},
              "encoding": {
                "x": {"field": "s", "type": "quantitative"},
                "y": {"field": "v", "type": "quantitative"},
                "color": {"field": "c", "type": "nominal"}
              }
            },
            {
              "data": {"name": "curve"},
              "mark": {"type": "line", "strokeWidth": 2.2, "interpolate": "monotone"},
              "encoding": {
                "x": {"field": "s", "type": "quantitative"},
                "y": {"field": "v", "type": "quantitative"},
                "color": {"field": "c", "type": "nominal"}
              }
            }
          ]
        }
      ]
    }
  ]
}
